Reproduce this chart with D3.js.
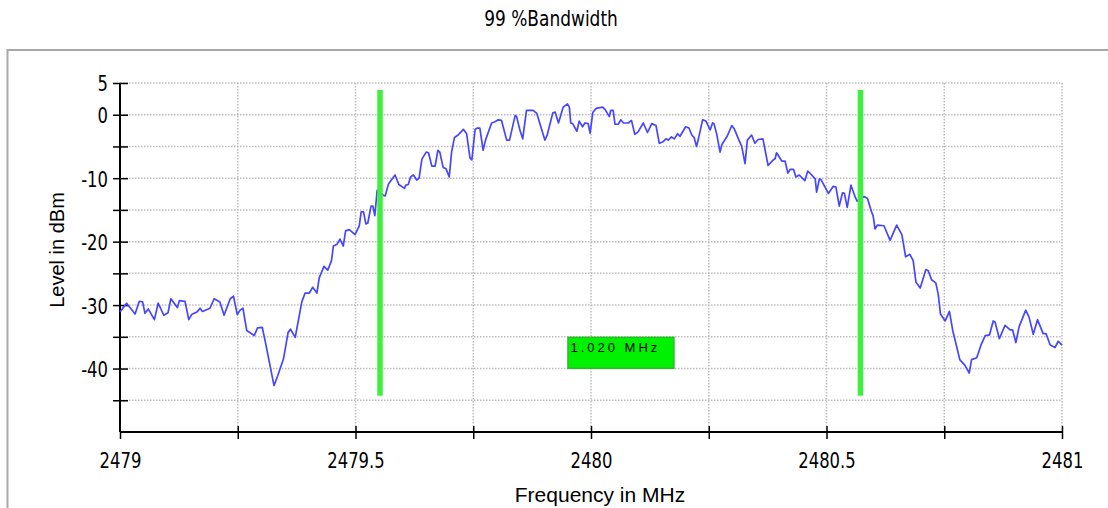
<!DOCTYPE html>
<html>
<head>
<meta charset="utf-8">
<script src="https://cdn.jsdelivr.net/npm/d3@7"></script>
<style>
  body { margin: 0; background: #fff; }
  svg { display: block; }
</style>
</head>
<body>
<svg id="mainSvg" width="1108" height="508"></svg>
<script>
// measured trace, frequency in MHz / level in dBm
const freqs = [
  2479.000, 2479.014, 2479.032, 2479.041, 2479.048, 2479.053, 2479.060, 2479.073, 2479.081, 2479.093,
  2479.102, 2479.108, 2479.122, 2479.126, 2479.138, 2479.146, 2479.152, 2479.163, 2479.170, 2479.175,
  2479.191, 2479.200, 2479.212, 2479.221, 2479.234, 2479.241, 2479.249, 2479.255, 2479.261, 2479.269,
  2479.285, 2479.292, 2479.302, 2479.308, 2479.327, 2479.335, 2479.347, 2479.357, 2479.362, 2479.372,
  2479.386, 2479.393, 2479.402, 2479.409, 2479.418, 2479.423, 2479.433, 2479.441,
  2479.449, 2479.453, 2479.461, 2479.467, 2479.474, 2479.479, 2479.487, 2479.499, 2479.508, 2479.512,
  2479.517, 2479.522, 2479.526, 2479.533, 2479.537, 2479.541, 2479.546, 2479.559, 2479.563, 2479.570,
  2479.584, 2479.592, 2479.604, 2479.607, 2479.612, 2479.617, 2479.623, 2479.630, 2479.635, 2479.641,
  2479.650, 2479.655, 2479.662, 2479.669, 2479.675, 2479.679, 2479.686, 2479.692, 2479.699, 2479.704,
  2479.710, 2479.718, 2479.729, 2479.736, 2479.743, 2479.747, 2479.754, 2479.759, 2479.764, 2479.771,
  2479.776, 2479.789, 2479.796, 2479.803, 2479.810, 2479.821, 2479.827, 2479.839, 2479.842, 2479.849,
  2479.855, 2479.863, 2479.877, 2479.885, 2479.902, 2479.907, 2479.919, 2479.924, 2479.931, 2479.941,
  2479.950, 2479.954, 2479.957, 2479.961, 2479.970, 2479.975, 2479.982, 2479.987, 2479.994, 2479.998,
  2480.004, 2480.011, 2480.025, 2480.030, 2480.039, 2480.042, 2480.047, 2480.051, 2480.058, 2480.063,
  2480.069, 2480.079, 2480.086, 2480.093, 2480.100, 2480.111, 2480.120, 2480.129, 2480.138, 2480.145,
  2480.152, 2480.159, 2480.164, 2480.171, 2480.177, 2480.184, 2480.189, 2480.201, 2480.208, 2480.214,
  2480.219, 2480.224, 2480.229, 2480.237, 2480.244, 2480.253, 2480.258, 2480.261, 2480.267, 2480.274,
  2480.278, 2480.289, 2480.299, 2480.304, 2480.313, 2480.320, 2480.327, 2480.332, 2480.341, 2480.348,
  2480.355, 2480.365, 2480.376, 2480.386, 2480.391, 2480.394, 2480.405, 2480.412, 2480.418, 2480.423,
  2480.430, 2480.435, 2480.442, 2480.454, 2480.460, 2480.466, 2480.476, 2480.479, 2480.485, 2480.488,
  2480.504, 2480.514, 2480.520, 2480.527, 2480.534, 2480.538, 2480.544, 2480.552, 2480.561, 2480.565,
  2480.580, 2480.587, 2480.596, 2480.599, 2480.603, 2480.608, 2480.622, 2480.635, 2480.649, 2480.660,
  2480.668, 2480.677, 2480.684, 2480.690, 2480.699, 2480.711, 2480.716, 2480.723, 2480.732, 2480.737,
  2480.742, 2480.752, 2480.761, 2480.768, 2480.783, 2480.794, 2480.803, 2480.808, 2480.819, 2480.829,
  2480.837, 2480.846, 2480.854, 2480.858, 2480.867, 2480.879, 2480.890, 2480.895, 2480.902, 2480.909,
  2480.923, 2480.930, 2480.939, 2480.948, 2480.960, 2480.966, 2480.975, 2480.985, 2480.992, 2481.000
];
const levels = [
  -31.1, -29.7, -31.4, -29.4, -29.5, -31.3, -30.6, -32.3, -29.7, -31.6,
  -31.2, -29.0, -30.4, -29.3, -29.4, -32.3, -31.5, -31.1, -30.5, -31.0,
  -30.5, -29.0, -29.5, -31.6, -29.0, -28.6, -31.5, -30.8, -30.5, -34.0,
  -34.8, -33.6, -33.5, -35.6, -42.7, -41.1, -38.5, -34.3, -33.8, -35.1,
  -29.5, -28.1, -28.1, -27.2, -28.1, -25.7, -23.9, -24.5,
  -23.0, -20.7, -20.4, -19.6, -20.7, -18.3, -18.1, -18.9, -17.5, -15.3,
  -15.3, -17.2, -17.1, -14.4, -14.4, -15.9, -11.9, -12.7, -12.8, -10.9,
  -9.5, -11.0, -11.6, -11.1, -11.0, -9.8, -9.5, -10.3, -10.0, -7.0,
  -5.9, -6.0, -8.1, -8.1, -5.6, -5.9, -8.3, -8.5, -9.8, -5.9,
  -3.6, -3.2, -2.3, -3.0, -6.8, -7.1, -2.3, -2.1, -2.1, -5.6,
  -4.0, -1.3, -1.1, -0.8, -0.9, -4.0, -4.0, -0.1, -0.3, -2.4,
  -3.8, 0.7, 0.7, 0.2, -4.0, -3.2, 0.3, 0.4, -1.3, 1.2,
  1.7, 1.2, -1.3, -1.4, -2.6, -1.0, -1.9, -1.3, -1.4, -2.9,
  0.4, 1.0, 1.2, 0.8, -0.3, 0.7, 0.7, -1.5, -1.5, -0.8,
  -1.3, -1.3, -0.9, -3.1, -2.7, -1.3, -2.8, -1.4, -1.7, -4.5,
  -4.3, -3.8, -4.0, -3.5, -3.8, -3.0, -3.4, -1.9, -2.1, -3.2,
  -3.6, -5.0, -3.5, -0.8, -1.0, -2.4, -1.3, -1.4, -3.1, -5.9,
  -4.7, -3.4, -1.7, -2.2, -3.8, -5.0, -7.7, -4.0, -3.2, -4.5,
  -3.9, -3.8, -8.0, -7.2, -6.9, -6.0, -7.3, -7.3, -9.2, -8.6,
  -8.6, -9.8, -9.5, -10.4, -8.9, -9.3, -10.1, -12.2, -10.1, -10.2,
  -12.4, -11.3, -11.4, -14.4, -12.3, -12.4, -14.6, -11.1, -13.0, -13.6,
  -12.9, -13.2, -15.4, -15.9, -18.0, -17.4, -17.5, -19.8, -17.4, -18.9,
  -22.4, -22.0, -23.0, -26.4, -27.3, -24.4, -24.6, -26.0, -26.5, -28.2,
  -31.4, -32.5, -31.0, -34.0, -38.6, -39.5, -40.7, -38.6, -38.3, -36.1,
  -34.8, -34.7, -32.5, -32.7, -35.3, -33.2, -33.9, -33.9, -35.9, -33.4,
  -30.8, -31.9, -34.6, -32.3, -34.5, -34.5, -36.3, -36.7, -35.7, -36.3
];

const xTicks = [2479, 2479.25, 2479.5, 2479.75, 2480, 2480.25, 2480.5, 2480.75, 2481];
const xLabels = [2479, 2479.5, 2480, 2480.5, 2481];
const yTicks = [5, 0, -5, -10, -15, -20, -25, -30, -35, -40, -45];
const yLabels = [5, 0, -10, -20, -30, -40];

// 99 % occupied bandwidth markers
const obwEdges = [2479.552, 2480.572];
const obwText = "1.020 MHz";
const markerSpan = [3.9, -44.3];
const labelAnchor = {f: 2479.95, level: -35};

const titleText = "99 %Bandwidth";
const xTitle = "Frequency in MHz";
const yTitle = "Level in dBm";

function drawChart() {
    let canvas = d3.select("#mainSvg");
    // no narrow font installed, so condensed glyphs get squeezed a bit more
    let narrow = "'DejaVu Sans Condensed', sans-serif";
    let plain = "'Liberation Sans', Arial, sans-serif";
    let squeeze = 0.83;

    let x = d3.scaleLinear().domain([2479, 2481]).range([120, 1062]);
    let y = d3.scaleLinear().domain([-50, 5]).range([432, 83]);

    // title
    canvas.append("text")
        .attr("transform", "translate(551,26) scale(0.9,1)")
        .attr("text-anchor", "middle")
        .attr("font-family", narrow)
        .attr("font-size", 21)
        .text(titleText);

    // outer panel
    canvas.append("rect")
        .attr("x", 7.5).attr("y", 50)
        .attr("width", 1200).attr("height", 600)
        .attr("fill", "#fff")
        .attr("stroke", "#a8a8a8")
        .attr("stroke-width", 2);

    // dotted grid
    let grid = canvas.append("g")
        .attr("stroke", "#bdbdbd")
        .attr("stroke-width", 1.5)
        .attr("stroke-dasharray", "1.5,1.5");
    grid.selectAll(".hg")
        .data(yTicks.filter(d => d > -50))
        .enter()
            .append("line")
            .attr("x1", x(2479)).attr("x2", x(2481))
            .attr("y1", d => y(d)).attr("y2", d => y(d));
    grid.selectAll(".vg")
        .data(xTicks.slice(1))
        .enter()
            .append("line")
            .attr("x1", d => x(d)).attr("x2", d => x(d))
            .attr("y1", y(5)).attr("y2", y(-50));

    // axes
    let xAxis = canvas.append("g")
        .attr("transform", "translate(0," + y(-50) + ")")
        .call(d3.axisBottom(x)
            .tickValues(xTicks)
            .tickSize(7)
            .tickFormat(d => xLabels.includes(d) ? String(d) : ""));
    let yAxis = canvas.append("g")
        .attr("transform", "translate(" + x(2479) + ",0)")
        .call(d3.axisLeft(y)
            .tickValues(yTicks)
            .tickSize(7)
            .tickFormat(d => yLabels.includes(d) ? String(d) : ""));

    [xAxis, yAxis].forEach(a => {
        a.select(".domain").attr("stroke", "#000").attr("stroke-width", 2);
        a.selectAll(".tick line").attr("stroke", "#000").attr("stroke-width", 1.5);
        a.selectAll("text")
            .attr("fill", "#000")
            .attr("font-family", narrow)
            .attr("font-size", 22);
    });
    xAxis.select(".domain").attr("d", "M" + x(2479) + ",0H" + x(2481));
    xAxis.selectAll(".tick line").attr("y1", d => d === 2479 ? 0 : -6).attr("y2", 7);
    xAxis.selectAll(".tick text")
        .attr("y", 36).attr("dy", 0)
        .attr("transform", "scale(" + squeeze + ",1)");
    yAxis.select(".domain").attr("d", "M0," + y(5) + "V" + y(-50));
    yAxis.selectAll(".tick line").attr("x1", -7).attr("x2", 8);
    yAxis.selectAll(".tick text")
        .attr("x", -12 / squeeze).attr("dy", "0.36em")
        .attr("transform", "scale(" + squeeze + ",1)");

    // axis titles
    canvas.append("text")
        .attr("transform", "translate(64,250) rotate(-90)")
        .attr("text-anchor", "middle")
        .attr("font-family", plain)
        .attr("font-size", 20)
        .text(yTitle);
    canvas.append("text")
        .attr("x", 600).attr("y", 502)
        .attr("text-anchor", "middle")
        .attr("font-family", plain)
        .attr("font-size", 21)
        .text(xTitle);

    // trace
    let points = freqs.map((f, i) => ({f: f, level: levels[i]}));
    let line = d3.line().x(d => x(d.f)).y(d => y(d.level));
    canvas.append("path")
        .datum(points)
        .attr("d", line)
        .attr("fill", "none")
        .attr("stroke", "#4646ff")
        .attr("stroke-width", 1.7)
        .attr("stroke-linejoin", "round");

    // bandwidth markers
    canvas.selectAll(".obw")
        .data(obwEdges)
        .enter()
            .append("line")
            .attr("x1", d => x(d)).attr("x2", d => x(d))
            .attr("y1", y(markerSpan[0])).attr("y2", y(markerSpan[1]))
            .attr("stroke", "#3ef03e")
            .attr("stroke-width", 5.5);

    // bandwidth label box
    let lx = x(labelAnchor.f);
    let ly = y(labelAnchor.level);
    canvas.append("rect")
        .attr("x", lx + 0.5).attr("y", ly + 0.5)
        .attr("width", 106).attr("height", 31)
        .attr("fill", "#00f200")
        .attr("stroke", "#2fb82f")
        .attr("stroke-width", 1.5);
    canvas.append("text")
        .attr("x", lx + 3).attr("y", ly + 15)
        .attr("font-family", plain)
        .attr("font-size", 13)
        .attr("letter-spacing", "3px")
        .attr("fill", "#000")
        .text(obwText);
}

drawChart();
</script>
</body>
</html>
